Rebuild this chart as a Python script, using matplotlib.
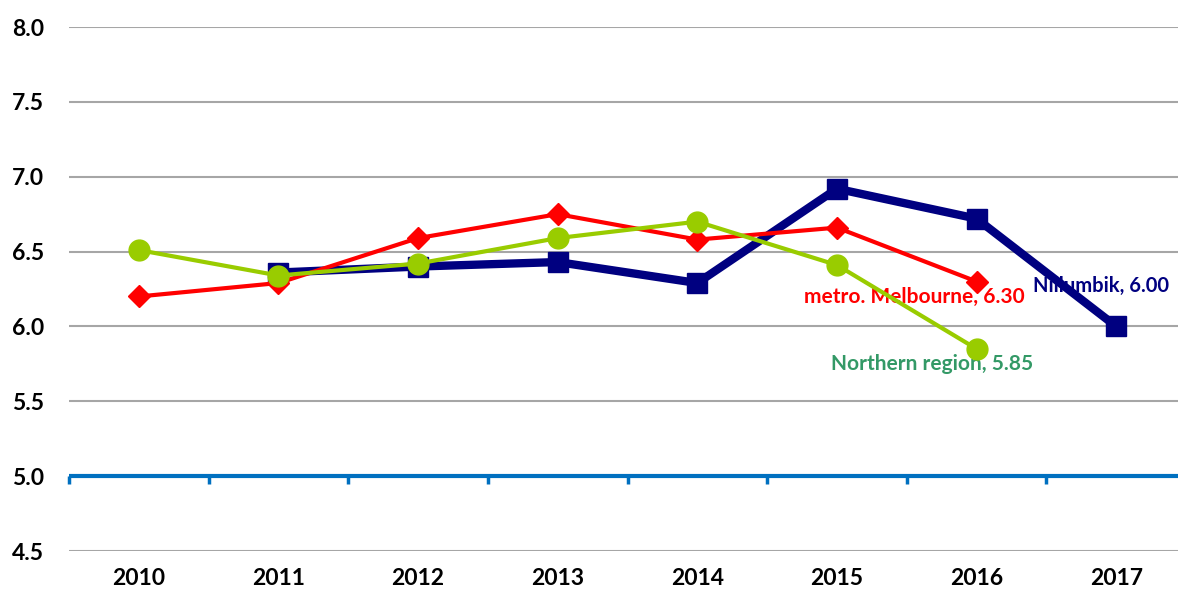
import matplotlib
matplotlib.use("Agg")
import matplotlib.pyplot as plt

years = ["2010", "2011", "2012", "2013", "2014", "2015", "2016", "2017"]

# Nillumbik has no 2010 value, the other two stop at 2016
nillumbik = [None, 6.36, 6.40, 6.43, 6.29, 6.92, 6.72, 6.00]
metro_melb = [6.20, 6.29, 6.59, 6.75, 6.58, 6.66, 6.30, None]
northern = [6.51, 6.34, 6.42, 6.59, 6.70, 6.41, 5.85, None]

y_min, y_max = 4.5, 8.0
y_ticks = [4.5, 5.0, 5.5, 6.0, 6.5, 7.0, 7.5, 8.0]
axis_at = 5.0

plt.rcParams['font.family'] = ['Lato', 'DejaVu Sans']
plt.rcParams['font.weight'] = 'bold'


def pts(vals):
    xs = [i for i, v in enumerate(vals) if v is not None]
    ys = [v for v in vals if v is not None]
    return xs, ys


fig = plt.figure(figsize=(11.78, 5.94), dpi=100)
ax = fig.add_axes([69 / 1178, 1 - 551 / 594, 1117 / 1178, (551 - 27) / 594])

x, y = pts(nillumbik)
ax.plot(x, y, color='#000080', lw=6, marker='s', ms=14, zorder=3)
x, y = pts(metro_melb)
ax.plot(x, y, color='#FF0000', lw=3, marker='D', ms=11, zorder=4)
x, y = pts(northern)
ax.plot(x, y, color='#99CC00', lw=3, marker='o', ms=15, zorder=5)

ax.set_xlim(-0.5, len(years) - 0.5)
ax.set_ylim(y_min, y_max)
ax.set_yticks(y_ticks)
ax.set_yticklabels(["%.1f" % t for t in y_ticks])
ax.set_xticks(range(len(years)))
ax.set_xticklabels(years)
ax.tick_params(axis='both', length=0, labelsize=16.5)
ax.tick_params(axis='y', pad=18)
ax.tick_params(axis='x', pad=12)
ax.grid(axis='y', color='#A6A6A6', lw=1.5)
ax.set_axisbelow(True)
for s in ax.spines.values():
    s.set_visible(False)

# blue category axis crossing at 5.0
ax.axhline(axis_at, color='#0070C0', lw=3, zorder=2)
sec = ax.secondary_xaxis((axis_at - y_min) / (y_max - y_min))
sec.set_xticks([i - 0.5 for i in range(len(years) + 1)])
sec.set_xticklabels([])
sec.spines['bottom'].set_visible(False)
sec.tick_params(axis='x', direction='out', length=5.5, width=2.5, color='#0070C0')

ax.annotate("metro. Melbourne, 6.30", xy=(6, metro_melb[6]), xytext=(-45, -11),
            textcoords='offset points', ha='center', va='center',
            color='#FF0000', fontsize=15, fontweight='bold')
ax.annotate("Northern region, 5.85", xy=(6, northern[6]), xytext=(-32, -11),
            textcoords='offset points', ha='center', va='center',
            color='#339966', fontsize=15, fontweight='bold')
ax.annotate("Nillumbik, 6.00", xy=(7, nillumbik[7]), xytext=(-60, 29),
            textcoords='offset points', ha='left', va='center',
            color='#000080', fontsize=14.5, fontweight='bold')

fig.savefig("out.png", dpi=100)
